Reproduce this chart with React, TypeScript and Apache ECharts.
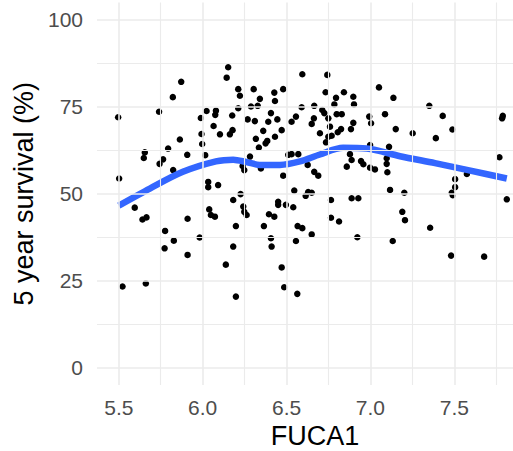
import React, { useEffect, useRef } from "react";
import * as echarts from "echarts";

const fuca1 = [
  6.152, 6.143, 5.872, 5.822, 5.496, 5.74, 6.023, 6.079, 6.075, 5.989, 6.176, 6.065, 6.103, 6.162,
  6.178, 5.993, 5.864, 5.997, 5.794, 5.908, 6.015, 5.655, 5.649, 5.764, 5.743, 5.824, 5.502, 6.033,
  6.212, 6.222, 6.212, 6.304, 6.341, 6.288, 6.328, 6.427, 6.431, 6.48, 6.594, 6.743, 6.59, 6.665,
  6.733, 6.795, 6.842, 6.898, 6.902, 6.785, 6.713, 6.725, 6.268, 6.311, 6.407, 6.391, 6.445, 6.556,
  6.53, 6.663, 6.65, 6.749, 6.799, 6.829, 6.759, 6.898, 6.884, 6.825, 6.805, 6.699, 6.749, 6.769,
  6.735, 6.471, 6.431, 6.385, 6.375, 6.361, 6.317, 6.335, 6.51, 6.53, 6.57, 6.282, 6.626, 6.665,
  6.689, 6.48, 6.878, 6.888, 6.859, 6.944, 6.958, 6.998, 6.993, 7.004, 6.998, 6.238, 6.248, 6.347,
  7.051, 7.137, 7.087, 7.151, 7.252, 7.351, 7.431, 7.39, 7.489, 7.789, 7.785, 7.769, 7.111, 7.097,
  7.097, 7.101, 7.027, 7.505, 7.575,
  6.033, 6.092, 6.182, 5.595, 5.641, 5.665, 5.91, 6.039, 6.049, 6.073, 6.198, 5.776, 5.828, 5.773,
  5.91, 5.982, 6.182, 6.138, 5.522, 5.661, 6.198,
  6.226, 6.242, 6.248, 6.262, 6.365, 6.395, 6.427, 6.407, 6.411, 6.45, 6.45, 6.496, 6.54, 6.546,
  6.614, 6.629, 6.65, 6.566, 6.594, 6.556, 6.65, 6.471, 6.486, 6.564, 6.765, 6.765, 6.813, 6.888,
  6.928, 6.922,
  7.117, 7.202, 7.19, 7.206, 7.356, 7.133, 7.505, 7.485, 7.491, 7.813, 7.481, 7.678,
];

const survival = [
  86.4, 83.4, 82.2, 77.8, 72.0, 73.6, 73.8, 73.9, 72.7, 71.8, 72.5, 69.5, 67.1, 67.1,
  68.3, 67.2, 65.6, 64.3, 63.0, 61.2, 61.1, 61.9, 60.3, 59.9, 58.6, 56.8, 54.4, 53.4,
  80.1, 78.2, 74.6, 80.1, 77.3, 75.1, 75.3, 79.1, 76.7, 80.1, 84.4, 84.2, 74.9, 75.3,
  79.2, 77.6, 79.2, 77.9, 75.7, 75.7, 74.1, 73.2, 71.4, 70.9, 73.2, 70.7, 71.4, 72.2,
  70.7, 71.7, 70.1, 71.7, 72.9, 72.9, 69.3, 70.4, 68.6, 68.6, 67.7, 67.4, 66.4, 66.7,
  64.8, 68.3, 66.4, 65.2, 64.5, 68.1, 65.8, 63.3, 61.2, 61.4, 61.4, 60.7, 58.3, 56.3,
  55.2, 55.2, 61.4, 59.7, 57.8, 59.4, 58.5, 57.5, 72.2, 70.3, 64.0, 58.0, 56.8, 57.3,
  80.6, 77.6, 72.9, 68.6, 67.4, 75.3, 72.4, 66.0, 68.5, 72.4, 71.7, 60.5, 63.5, 60.2,
  58.6, 56.2, 57.0, 54.2, 55.7,
  51.9, 52.5, 48.2, 46.0, 42.6, 43.2, 42.8, 45.5, 43.9, 43.4, 40.7, 39.3, 36.5, 34.3,
  32.4, 37.4, 34.8, 29.6, 23.3, 24.2, 20.4,
  49.9, 46.3, 44.8, 43.9, 40.7, 44.1, 43.4, 37.2, 34.8, 47.7, 46.8, 46.8, 46.1, 50.9,
  49.4, 50.5, 50.3, 40.7, 40.1, 36.4, 38.3, 28.8, 23.1, 21.2, 48.2, 43.1, 42.0, 48.7,
  48.7, 37.5,
  51.1, 50.3, 44.8, 42.4, 40.2, 36.4, 51.9, 50.3, 49.6, 48.4, 32.2, 31.9,
];

const smoothFuca1 = [
  5.5, 5.685, 5.882, 6.079, 6.182, 6.262, 6.341, 6.461, 6.58, 6.699, 6.837, 6.978, 7.177, 7.385,
  7.582, 7.813,
];
const smoothSurvival = [
  46.6, 51.5, 56.3, 59.3, 59.8, 59.1, 58.3, 58.3, 59.3, 61.3, 63.2, 63.0, 60.8, 58.8, 56.8, 54.4,
];

const xTicks = [5.5, 6.0, 6.5, 7.0, 7.5];
const xMinorTicks = [5.75, 6.25, 6.75, 7.25, 7.75];
const yTicks = [0, 25, 50, 75, 100];
const yMinorTicks = [12.5, 37.5, 62.5, 87.5];

const xTitle = "FUCA1";
const yTitle = "5 year survival (%)";

const FONT = "'Liberation Sans', Arial, Helvetica, sans-serif";
const GRID = "#EBEBEB";

export default function App() {
  const ref = useRef<HTMLDivElement>(null);

  useEffect(() => {
    if (!ref.current) return;
    const chart = echarts.init(ref.current, undefined, { renderer: "svg" });

    const gridLines = [
      ...xTicks.map((v) => ({ xAxis: v, lineStyle: { width: 1.6, color: GRID, type: "solid" } })),
      ...xMinorTicks.map((v) => ({ xAxis: v, lineStyle: { width: 1.1, color: GRID, type: "solid" } })),
      ...yTicks.map((v) => ({ yAxis: v, lineStyle: { width: 1.6, color: GRID, type: "solid" } })),
      ...yMinorTicks.map((v) => ({ yAxis: v, lineStyle: { width: 1.1, color: GRID, type: "solid" } })),
    ];

    chart.setOption({
      animation: false,
      backgroundColor: "#FFFFFF",
      grid: {
        left: 97,
        top: 2.6,
        width: 416,
        height: 382.3,
        containLabel: false,
        outerBoundsMode: "none",
      },
      xAxis: {
        type: "value",
        min: 5.37,
        max: 7.85,
        axisLine: { show: false },
        axisTick: { show: false },
        splitLine: { show: false },
        axisLabel: {
          customValues: xTicks,
          formatter: (v: number) => v.toFixed(1),
          color: "#4D4D4D",
          fontSize: 21,
          fontFamily: FONT,
          margin: 12,
        },
        name: xTitle,
        nameLocation: "middle",
        nameGap: 37,
        nameTextStyle: {
          color: "#000000",
          fontSize: 27,
          fontFamily: FONT,
          padding: [0, 0, 0, 20],
        },
      },
      yAxis: {
        type: "value",
        min: -5,
        max: 105,
        axisLine: { show: false },
        axisTick: { show: false },
        splitLine: { show: false },
        axisLabel: {
          customValues: yTicks,
          color: "#4D4D4D",
          fontSize: 21,
          fontFamily: FONT,
          margin: 14,
        },
        name: yTitle,
        nameLocation: "middle",
        nameRotate: 90,
        nameGap: 53,
        nameTextStyle: {
          color: "#000000",
          fontSize: 27,
          fontFamily: FONT,
        },
      },
      series: [
        {
          type: "line",
          data: [],
          z: 0,
          silent: true,
          markLine: {
            silent: true,
            symbol: ["none", "none"],
            label: { show: false },
            emphasis: { disabled: true },
            data: gridLines,
          },
        },
        {
          type: "scatter",
          z: 2,
          symbol: "circle",
          symbolSize: 6.5,
          itemStyle: { color: "#000000", opacity: 1 },
          data: fuca1.map((x, i) => [x, survival[i]]),
        },
        {
          type: "line",
          z: 3,
          smooth: 0.3,
          showSymbol: false,
          symbol: "none",
          lineStyle: { color: "#3366FF", width: 6.5 },
          data: smoothFuca1.map((x, i) => [x, smoothSurvival[i]]),
        },
      ],
    });

    return () => chart.dispose();
  }, []);

  return (
    <div
      ref={ref}
      style={{ position: "absolute", left: 0, top: 0, width: 513, height: 451 }}
    />
  );
}
